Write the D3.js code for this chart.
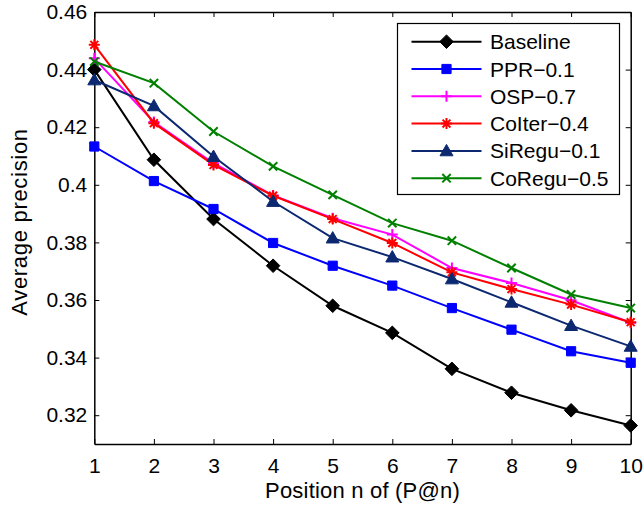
<!DOCTYPE html>
<html>
<head>
<meta charset="utf-8">
<script src="https://cdn.jsdelivr.net/npm/d3@7"></script>
<style>
  html, body { margin: 0; padding: 0; background: #fff; }
  svg { display: block; font-family: "Liberation Sans", Arial, Helvetica, sans-serif; }
</style>
</head>
<body>
<svg id="chart" width="644" height="508"></svg>
<script>
// ---- Data ----
const positions = [1, 2, 3, 4, 5, 6, 7, 8, 9, 10];
const seriesNames = ["Baseline", "PPR\u22120.1", "OSP\u22120.7", "CoIter\u22120.4", "SiRegu\u22120.1", "CoRegu\u22120.5"];
const baseline = [0.4400, 0.4087, 0.3881, 0.3719, 0.3580, 0.3486, 0.3361, 0.3278, 0.3217, 0.3164];
const ppr      = [0.4133, 0.4013, 0.3916, 0.3798, 0.3719, 0.3650, 0.3572, 0.3497, 0.3422, 0.3382];
const osp      = [0.4439, 0.4218, 0.4075, 0.3963, 0.3884, 0.3827, 0.3711, 0.3659, 0.3599, 0.3521];
const coiter   = [0.4486, 0.4214, 0.4069, 0.3962, 0.3881, 0.3798, 0.3696, 0.3638, 0.3584, 0.3523];
const siregu   = [0.4364, 0.4274, 0.4098, 0.3942, 0.3815, 0.3749, 0.3673, 0.3592, 0.3511, 0.3439];
const coregu   = [0.4428, 0.4353, 0.4185, 0.4064, 0.3965, 0.3867, 0.3806, 0.3711, 0.3619, 0.3572];
const yTickValues = [0.32, 0.34, 0.36, 0.38, 0.40, 0.42, 0.44, 0.46];
const yTickLabels = ["0.32", "0.34", "0.36", "0.38", "0.4", "0.42", "0.44", "0.46"];
const xTickLabels = ["1", "2", "3", "4", "5", "6", "7", "8", "9", "10"];
const xLabel = "Position n of (P@n)";
const yLabel = "Average precision";

const seriesValues = [baseline, ppr, osp, coiter, siregu, coregu];
const seriesColors = ["#000000", "#0000ff", "#ff00ff", "#ff0000", "#0b2870", "#008000"];
const seriesMarkers = ["diamond", "square", "plus", "asterisk", "triangle", "cross"];

// ---- Layout ----
const svg = d3.select("#chart");
const L = 94.3, R = 630.7, T = 12, B = 444;
const x = d3.scaleLinear().domain([1, 10]).range([L, R]);
const y = d3.scaleLinear().domain([0.31, 0.46]).range([B, T]);
const FS = 21;

// marker path generators (centered at 0,0)
function markerPath(type) {
  switch (type) {
    case "diamond": { const r = 6.8; return `M0,${-r}L${r},0L0,${r}L${-r},0Z`; }
    case "square": { const r = 4.6; return `M${-r},${-r}H${r}V${r}H${-r}Z`; }
    case "triangle": { const r = 6.5; return `M0,${-r}L${r},${r * 0.75}L${-r},${r * 0.75}Z`; }
    case "plus": { const r = 5.5; return `M${-r},0H${r}M0,${-r}V${r}`; }
    case "cross": { const r = 4.2; return `M${-r},${-r}L${r},${r}M${-r},${r}L${r},${-r}`; }
    case "asterisk": { const r = 5.5, d = r * 0.72; return `M${-r},0H${r}M0,${-r}V${r}M${-d},${-d}L${d},${d}M${-d},${d}L${d},${-d}`; }
  }
}
const filled = { diamond: true, square: true, triangle: true, plus: false, cross: false, asterisk: false };

// ---- Axes ----
const gx = svg.append("g").attr("transform", `translate(0,${B})`)
  .call(d3.axisBottom(x).tickValues(positions).tickFormat((d, i) => xTickLabels[i])
    .tickSizeInner(-5).tickSizeOuter(0).tickPadding(14));
const gxTop = svg.append("g").attr("transform", `translate(0,${T})`)
  .call(d3.axisTop(x).tickValues(positions).tickFormat("").tickSizeInner(-5).tickSizeOuter(0));
const gy = svg.append("g").attr("transform", `translate(${L},0)`)
  .call(d3.axisLeft(y).tickValues(yTickValues).tickFormat((d, i) => yTickLabels[i])
    .tickSizeInner(-5).tickSizeOuter(0).tickPadding(7));
const gyRight = svg.append("g").attr("transform", `translate(${R},0)`)
  .call(d3.axisRight(y).tickValues(yTickValues).tickFormat("").tickSizeInner(-5).tickSizeOuter(0));

[gx, gxTop, gy, gyRight].forEach(g => {
  g.select(".domain").attr("stroke", "#000").attr("stroke-width", 1.5);
  g.selectAll(".tick line").attr("stroke", "#000").attr("stroke-width", 1);
  g.selectAll(".tick text").attr("fill", "#000").style("font-size", FS + "px")
    .style("font-family", '"Liberation Sans", Arial, sans-serif');
});

// axis labels
svg.append("text").attr("x", (L + R) / 2).attr("y", 498).attr("text-anchor", "middle")
  .style("font-size", "22px").style("letter-spacing", "0.2px").attr("fill", "#000").text(xLabel);
svg.append("text").attr("transform", `translate(27,222) rotate(-90)`)
  .attr("text-anchor", "middle").style("font-size", "22px").style("letter-spacing", "0.7px")
  .attr("fill", "#000").text(yLabel);

// ---- Series ----
const line = d3.line().x((d, i) => x(positions[i])).y(d => y(d));
seriesValues.forEach((vals, si) => {
  const g = svg.append("g");
  const c = seriesColors[si];
  g.append("path").datum(vals).attr("d", line).attr("fill", "none")
    .attr("stroke", c).attr("stroke-width", 2);
  const m = seriesMarkers[si];
  g.selectAll("path.mk").data(vals).enter().append("path").attr("class", "mk")
    .attr("transform", (d, i) => `translate(${x(positions[i])},${y(d)})`)
    .attr("d", markerPath(m))
    .attr("fill", filled[m] ? c : "none")
    .attr("stroke", c).attr("stroke-width", filled[m] ? 1 : 2);
});

// ---- Legend ----
const lg = svg.append("g");
lg.append("rect").attr("x", 397.5).attr("y", 23.5).attr("width", 222).attr("height", 171)
  .attr("fill", "#fff").attr("stroke", "#000").attr("stroke-width", 1.2);
const rowY0 = 41.7, rowStep = 27.3;
seriesNames.forEach((name, si) => {
  const yy = rowY0 + si * rowStep;
  const c = seriesColors[si];
  const m = seriesMarkers[si];
  lg.append("line").attr("x1", 411.5).attr("x2", 481.5).attr("y1", yy).attr("y2", yy)
    .attr("stroke", c).attr("stroke-width", 2);
  lg.append("path").attr("transform", `translate(446.5,${yy})`).attr("d", markerPath(m))
    .attr("fill", filled[m] ? c : "none").attr("stroke", c).attr("stroke-width", filled[m] ? 1 : 2);
  lg.append("text").attr("x", 490).attr("y", yy).attr("dy", "0.36em")
    .style("font-size", FS + "px").attr("fill", "#000").text(name);
});
</script>
</body>
</html>
